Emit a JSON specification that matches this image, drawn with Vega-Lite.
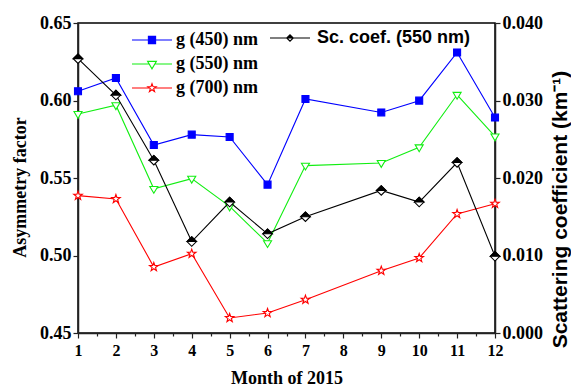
{
  "$schema": "https://vega.github.io/schema/vega-lite/v6.json",
  "width": 417,
  "height": 310,
  "autosize": {"type": "none"},
  "padding": {"left": 78, "top": 23, "right": 76, "bottom": 56},
  "background": "white",
  "datasets": {
    "g": [
      {"month": 1, "series": "g (450) nm", "g": 0.606},
      {"month": 2, "series": "g (450) nm", "g": 0.6145},
      {"month": 3, "series": "g (450) nm", "g": 0.5713},
      {"month": 4, "series": "g (450) nm", "g": 0.578},
      {"month": 5, "series": "g (450) nm", "g": 0.5765},
      {"month": 6, "series": "g (450) nm", "g": 0.5457},
      {"month": 7, "series": "g (450) nm", "g": 0.601},
      {"month": 9, "series": "g (450) nm", "g": 0.5923},
      {"month": 10, "series": "g (450) nm", "g": 0.5999},
      {"month": 11, "series": "g (450) nm", "g": 0.631},
      {"month": 12, "series": "g (450) nm", "g": 0.589},
      {"month": 1, "series": "g (550) nm", "g": 0.5913},
      {"month": 2, "series": "g (550) nm", "g": 0.597},
      {"month": 3, "series": "g (550) nm", "g": 0.543},
      {"month": 4, "series": "g (550) nm", "g": 0.5496},
      {"month": 5, "series": "g (550) nm", "g": 0.5317},
      {"month": 6, "series": "g (550) nm", "g": 0.508},
      {"month": 7, "series": "g (550) nm", "g": 0.558},
      {"month": 9, "series": "g (550) nm", "g": 0.5597},
      {"month": 10, "series": "g (550) nm", "g": 0.5698},
      {"month": 11, "series": "g (550) nm", "g": 0.6037},
      {"month": 12, "series": "g (550) nm", "g": 0.5768},
      {"month": 1, "series": "g (700) nm", "g": 0.5386},
      {"month": 2, "series": "g (700) nm", "g": 0.5365},
      {"month": 3, "series": "g (700) nm", "g": 0.4926},
      {"month": 4, "series": "g (700) nm", "g": 0.5012},
      {"month": 5, "series": "g (700) nm", "g": 0.4597},
      {"month": 6, "series": "g (700) nm", "g": 0.4629},
      {"month": 7, "series": "g (700) nm", "g": 0.4715},
      {"month": 9, "series": "g (700) nm", "g": 0.4902},
      {"month": 10, "series": "g (700) nm", "g": 0.4984},
      {"month": 11, "series": "g (700) nm", "g": 0.5268},
      {"month": 12, "series": "g (700) nm", "g": 0.5334}
    ],
    "sc": [
      {"month": 1, "name": "Sc. coef. (550 nm)", "sc": 0.0354},
      {"month": 2, "name": "Sc. coef. (550 nm)", "sc": 0.0307},
      {"month": 3, "name": "Sc. coef. (550 nm)", "sc": 0.0223},
      {"month": 4, "name": "Sc. coef. (550 nm)", "sc": 0.0118},
      {"month": 5, "name": "Sc. coef. (550 nm)", "sc": 0.0169},
      {"month": 6, "name": "Sc. coef. (550 nm)", "sc": 0.0128},
      {"month": 7, "name": "Sc. coef. (550 nm)", "sc": 0.015},
      {"month": 9, "name": "Sc. coef. (550 nm)", "sc": 0.0184},
      {"month": 10, "name": "Sc. coef. (550 nm)", "sc": 0.0169},
      {"month": 11, "name": "Sc. coef. (550 nm)", "sc": 0.022},
      {"month": 12, "name": "Sc. coef. (550 nm)", "sc": 0.0099}
    ]
  },
  "encoding": {
    "x": {
      "field": "month",
      "type": "quantitative",
      "scale": {"domain": [1, 12], "nice": false, "zero": false},
      "axis": {
        "title": "Month of 2015",
        "values": [1, 1.5, 2, 2.5, 3, 3.5, 4, 4.5, 5, 5.5, 6, 6.5, 7, 7.5, 8, 8.5, 9, 9.5, 10, 10.5, 11, 11.5, 12],
        "labelExpr": "datum.value % 1 === 0 ? format(datum.value, 'd') : ''",
        "tickSize": {"condition": {"test": "datum.value % 1 !== 0", "value": 3}, "value": 5},
        "labelFontSize": 16,
        "labelPadding": 4,
        "labelFlush": false,
        "titleFontSize": 18,
        "titleX": 208.5,
        "titleY": 50,
        "titleAlign": "center",
        "titleBaseline": "alphabetic"
      }
    }
  },
  "layer": [
    {
      "data": {"name": "g"},
      "layer": [
        {
          "mark": {"type": "line", "strokeWidth": 1.1, "clip": false},
          "encoding": {
            "y": {
              "field": "g",
              "type": "quantitative",
              "scale": {"domain": [0.45, 0.65], "nice": false, "zero": false},
              "axis": {
                "orient": "left",
                "title": "Asymmetry factor",
                "values": [0.45, 0.475, 0.5, 0.525, 0.55, 0.575, 0.6, 0.625, 0.65],
                "labelExpr": "round(datum.value * 1000) % 50 === 0 ? format(datum.value, '.2f') : ''",
                "tickSize": {"condition": {"test": "round(datum.value * 1000) % 50 !== 0", "value": 3}, "value": 5},
                "labelFontSize": 18,
                "labelPadding": 2,
                "titleFontSize": 18,
                "titleAngle": -90,
                "titleX": -58,
                "titleY": 164,
                "titleAlign": "center",
                "titleBaseline": "middle"
              }
            },
            "color": {
              "field": "series",
              "type": "nominal",
              "scale": {"domain": ["g (450) nm", "g (550) nm", "g (700) nm"], "range": ["#0000ff", "#11ee11", "#ff0000"]},
              "legend": {
                "title": null,
                "orient": "none",
                "legendX": 49,
                "legendY": 8,
                "direction": "vertical",
                "labelFont": "Liberation Serif",
                "labelFontWeight": "bold",
                "labelFontSize": 18,
                "labelColor": "black",
                "symbolSize": 64,
                "symbolOffset": 16,
                "labelOffset": 15,
                "rowPadding": 6,
                "symbolStrokeWidth": 1.1,
                "encode": {
                  "symbols": {
                    "update": {
                      "shape": {"signal": "datum.value === 'g (450) nm' ? 'M-5,0L-0.9,0M0.9,0L5,0M-0.9,-0.9L0.9,-0.9L0.9,0.9L-0.9,0.9Z' : datum.value === 'g (550) nm' ? 'M-5,0L-0.62,0M0.62,0L5,0M-1.1,-0.65L1.1,-0.65L0,1.2Z' : 'M-5,0L-0.62,0M0.62,0L5,0M0,-1.1L0.26,-0.36L1.05,-0.34L0.42,0.14L0.65,0.89L0,0.44L-0.65,0.89L-0.42,0.14L-1.05,-0.34L-0.26,-0.36Z'"},
                      "fill": {"signal": "datum.value === 'g (450) nm' ? '#0000ff' : 'white'"},
                      "stroke": {"signal": "datum.value === 'g (450) nm' ? '#0000ff' : datum.value === 'g (550) nm' ? '#11ee11' : '#ff0000'"},
                      "strokeWidth": {"value": 1.1},
                      "opacity": {"value": 1},
                      "fillOpacity": {"value": 1}
                    }
                  }
                }
              }
            }
          }
        },
        {
          "mark": {"type": "point", "filled": false, "strokeWidth": 1.1, "opacity": 1, "clip": false},
          "encoding": {
            "y": {"field": "g", "type": "quantitative"},
            "color": {"field": "series", "type": "nominal", "legend": null},
            "shape": {
              "field": "series",
              "type": "nominal",
              "scale": {"domain": ["g (450) nm", "g (550) nm", "g (700) nm"], "range": ["M-1,-1L1,-1L1,1L-1,1Z", "M-1,-0.6L1,-0.6L0,1.1Z", "M0,-1L0.235,-0.324L0.951,-0.309L0.38,0.124L0.588,0.809L0,0.4L-0.588,0.809L-0.38,0.124L-0.951,-0.309L-0.235,-0.324Z"]},
              "legend": null
            },
            "fill": {
              "field": "series",
              "type": "nominal",
              "scale": {"domain": ["g (450) nm", "g (550) nm", "g (700) nm"], "range": ["#0000ff", "white", "white"]},
              "legend": null
            },
            "size": {
              "field": "series",
              "type": "nominal",
              "scale": {"domain": ["g (450) nm", "g (550) nm", "g (700) nm"], "range": [49, 81, 100]},
              "legend": null
            }
          }
        }
      ]
    },
    {
      "data": {"name": "sc"},
      "layer": [
        {
          "mark": {"type": "line", "strokeWidth": 1.1, "clip": false},
          "encoding": {
            "y": {
              "field": "sc",
              "type": "quantitative",
              "scale": {"domain": [0, 0.04], "nice": false, "zero": false},
              "axis": {
                "orient": "right",
                "title": "Scattering coefficient (km⁻¹)",
                "values": [0, 0.0025, 0.005, 0.0075, 0.01, 0.0125, 0.015, 0.0175, 0.02, 0.0225, 0.025, 0.0275, 0.03, 0.0325, 0.035, 0.0375, 0.04],
                "labelExpr": "round(datum.value * 10000) % 50 === 0 ? format(datum.value, '.3f') : ''",
                "tickSize": {"condition": {"test": "round(datum.value * 10000) % 50 !== 0", "value": -3}, "value": 5},
                "labelFontSize": 18,
                "labelPadding": 2,
                "titleFont": "Liberation Sans",
                "titleFontSize": 21,
                "titleAngle": -90,
                "titleX": 65,
                "titleY": 186,
                "titleAlign": "center",
                "titleBaseline": "middle"
              }
            },
            "color": {
              "field": "name",
              "type": "nominal",
              "scale": {"domain": ["Sc. coef. (550 nm)"], "range": ["black"]},
              "legend": {
                "title": null,
                "orient": "none",
                "legendX": 187,
                "legendY": 6,
                "labelFont": "Liberation Sans",
                "labelFontWeight": "bold",
                "labelFontSize": 18,
                "labelColor": "black",
                "symbolSize": 64,
                "symbolOffset": 16,
                "labelOffset": 18,
                "encode": {
                  "symbols": {
                    "update": {
                      "shape": {"value": "M-5,0L5,0M-0.8,0L0,-0.8L0.8,0ZM-0.8,0L0,0.8L0.8,0L0,0.8Z"},
                      "fill": {"value": "black"},
                      "stroke": {"value": "black"},
                      "strokeWidth": {"value": 1.1},
                      "opacity": {"value": 1},
                      "fillOpacity": {"value": 1}
                    }
                  }
                }
              }
            }
          }
        },
        {
          "mark": {"type": "point", "shape": "M-1,0L0,-1L1,0L0,1Z", "size": 90, "filled": true, "fill": "white", "stroke": "black", "strokeWidth": 1.1, "opacity": 1, "clip": false},
          "encoding": {"y": {"field": "sc", "type": "quantitative"}}
        },
        {
          "mark": {"type": "point", "shape": "M-1,0L0,-1L1,0Z", "size": 90, "filled": true, "fill": "black", "stroke": "black", "strokeWidth": 1.1, "opacity": 1, "clip": false},
          "encoding": {"y": {"field": "sc", "type": "quantitative"}}
        }
      ]
    }
  ],
  "resolve": {"scale": {"y": "independent", "color": "independent"}},
  "config": {
    "view": {"stroke": "black", "strokeWidth": 1.5},
    "axis": {
      "grid": false,
      "domainColor": "#222",
      "domainWidth": 1.5,
      "tickColor": "#222",
      "tickWidth": 1.2,
      "labelFont": "Liberation Serif",
      "labelFontWeight": "bold",
      "labelColor": "black",
      "titleFont": "Liberation Serif",
      "titleFontWeight": "bold",
      "titleColor": "black"
    }
  }
}
